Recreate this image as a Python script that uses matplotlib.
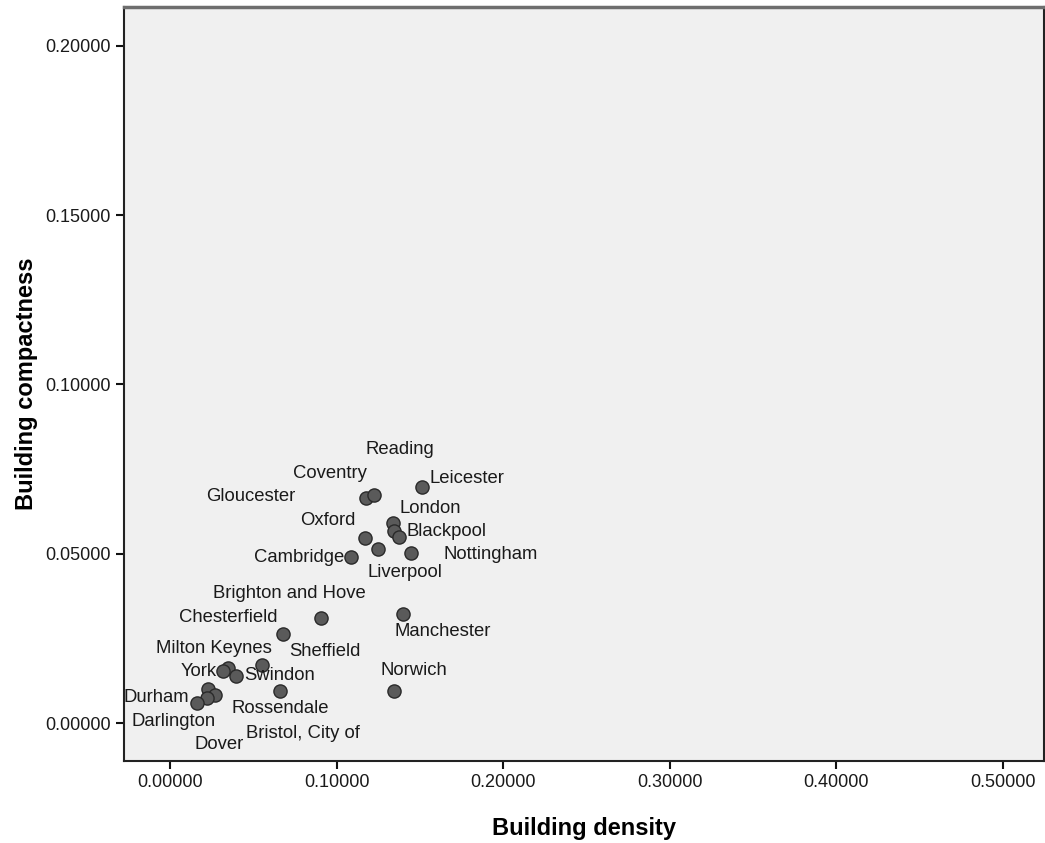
import matplotlib
matplotlib.use("Agg")
import matplotlib.pyplot as plt
from matplotlib.ticker import FormatStrFormatter

plt.rcParams["font.family"] = ["Liberation Sans", "DejaVu Sans"]

# data
cities = [
    "Leicester", "Gloucester", "Coventry", "London", "Reading", "Blackpool",
    "Oxford", "Liverpool", "Nottingham", "Cambridge", "Brighton and Hove",
    "Manchester", "Chesterfield", "Sheffield", "Milton Keynes", "York",
    "Swindon", "Rossendale", "Norwich", "Durham", "Bristol, City of",
    "Dover", "Darlington",
]
density = [
    0.1514, 0.1178, 0.1224, 0.1340, 0.1344, 0.1374,
    0.1168, 0.1250, 0.1444, 0.1088, 0.0904,
    0.1398, 0.0676, 0.0548, 0.0348, 0.0318,
    0.0392, 0.0660, 0.1342, 0.0228, 0.0268,
    0.0222, 0.0162,
]
compactness = [
    0.0696, 0.0666, 0.0675, 0.0591, 0.0568, 0.0551,
    0.0548, 0.0513, 0.0503, 0.0491, 0.0310,
    0.0323, 0.0263, 0.0171, 0.0162, 0.0155,
    0.0141, 0.0096, 0.0095, 0.0100, 0.0083,
    0.0074, 0.0061,
]

# label placement, offset of label centre from its point (pixels)
label_offsets = {
    "Leicester": (45, 9), "Gloucester": (-116, 1), "Coventry": (-44, 21),
    "London": (37, 15), "Reading": (6, 81), "Blackpool": (47, 5),
    "Oxford": (-37, 17), "Liverpool": (27, -23), "Nottingham": (80, -2),
    "Cambridge": (-52, -1), "Brighton and Hove": (-31, 25),
    "Manchester": (40, -18), "Chesterfield": (-55, 17), "Sheffield": (63, 14),
    "Milton Keynes": (-14, 20), "York": (-25, -1), "Swindon": (44, 0),
    "Rossendale": (0, -18), "Norwich": (20, 21), "Durham": (-52, -8),
    "Bristol, City of": (88, -38), "Dover": (12, -46), "Darlington": (-24, -19),
}

fig = plt.figure(figsize=(10.45, 8.43), dpi=100)
ax = fig.add_axes([0.1182, 0.0967, 0.8808, 0.895])
ax.set_facecolor("#f0f0f0")

ax.scatter(density, compactness, s=90, facecolor="#5a5a5a",
           edgecolor="#2a2a2a", linewidth=1.0, zorder=3)

for name, x, y in zip(cities, density, compactness):
    ax.annotate(name, (x, y), xytext=label_offsets[name],
                textcoords="offset pixels", ha="center", va="center",
                fontsize=13.3, color="#1a1a1a", zorder=4)

ax.set_xlim(-0.0281, 0.5247)
ax.set_ylim(-0.01127, 0.2114)
ax.set_xticks([0.0, 0.1, 0.2, 0.3, 0.4, 0.5])
ax.set_yticks([0.0, 0.05, 0.10, 0.15, 0.20])
ax.xaxis.set_major_formatter(FormatStrFormatter("%.5f"))
ax.yaxis.set_major_formatter(FormatStrFormatter("%.5f"))
ax.tick_params(direction="out", length=6, width=1.5, labelsize=13,
               color="#111111", labelcolor="#1a1a1a", pad=3)

for side in ["left", "bottom", "top", "right"]:
    ax.spines[side].set_linewidth(1.5)
    ax.spines[side].set_color("#222222")
ax.spines["top"].set_color("#6e6e6e")
ax.spines["top"].set_linewidth(2.5)

ax.set_xlabel("Building density", fontsize=17, fontweight="bold", labelpad=19)
ax.set_ylabel("Building compactness", fontsize=17, fontweight="bold", labelpad=5)

fig.savefig("out.png", dpi=100)
